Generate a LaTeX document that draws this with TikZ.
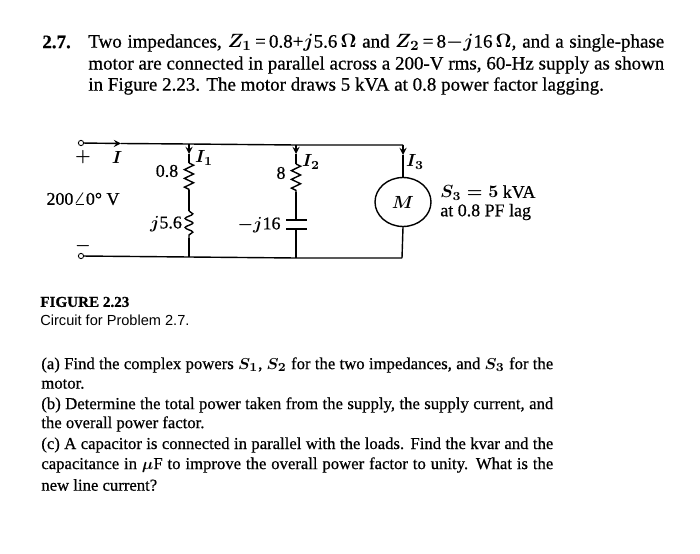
\documentclass[tikz,border=0pt]{standalone}
\usepackage{fontspec}
\setmainfont[FakeBold=0.6]{Liberation Serif}
\newfontfamily\capfont{Liberation Sans}
\usetikzlibrary{decorations.pathmorphing, shapes.geometric}

\newcommand{\fullline}[2]{\makebox[#1][s]{#2}}

\tikzset{
    txt/.style={anchor=west, inner sep=0pt, font=\boldmath\fontsize{10.8}{12}\selectfont},
    lowtxt/.style={txt, font=\boldmath\fontsize{9.5}{11}\selectfont},
    lab/.style={inner sep=0pt, font=\boldmath\fontsize{10.2}{11}\selectfont},
    wire/.style={line width=0.8pt},
    resist/.style={wire, decorate, decoration={zigzag, amplitude=2.6pt, segment length=5pt}},
    induct/.style={wire, decorate, decoration={snake, amplitude=2.2pt, segment length=5.2pt}},
    term/.style={circle, draw, line width=0.5pt, inner sep=0pt, minimum size=3pt}
}

\begin{document}
\begin{tikzpicture}[x=0.02cm, y=-0.02cm, >=stealth]

    % 1. Fix the page
    \useasboundingbox (0,0) rectangle (700,554);

    % 2. Problem statement
    \node[txt] (num) at (42,42) {\textbf{2.7.}};
    \node[txt] (st1) at (88,43) {\fullline{11.52cm}{Two impedances, $Z_1$\,=\,0.8+$j$5.6\,$\Omega$ and $Z_2$\,=\,8$-j$16\,$\Omega$, and a single-phase}};
    \node[txt] (st2) at (88,65) {\fullline{11.52cm}{motor are connected in parallel across a 200-V rms, 60-Hz supply as shown}};
    \node[txt] (st3) at (88,86) {in Figure 2.23. The motor draws 5 kVA at 0.8 power factor lagging.};

    % 3. Rails and branch points
    \node[term] (tt) at (81,143) {};
    \node[term] (tb) at (81,256) {};
    \coordinate (ia) at (121,143.5);
    \coordinate (t1) at (189,144);
    \coordinate (t2) at (296,145);
    \coordinate (t3) at (403,145);
    \coordinate (b1) at (189,257);
    \coordinate (b2) at (296,258);
    \coordinate (b3) at (402,258);
    \draw[wire, ->] (tt) -- (ia);
    \draw[wire] (ia) -- (t1) -- (t2) -- (t3);
    \draw[wire] (tb) -- (b1) -- (b2) -- (b3);

    % 4. First branch
    \coordinate (a1) at (189,154);
    \coordinate (r1a) at (189,163);
    \coordinate (r1b) at (189,190);
    \coordinate (l1a) at (189,211);
    \coordinate (l1b) at (189,238);
    \draw[wire, ->] (t1) -- (a1);
    \draw[wire] (a1) -- (r1a);
    \draw[resist] (r1a) -- (r1b);
    \draw[wire] (r1b) -- (l1a);
    \draw[induct] (l1a) -- (l1b);
    \draw[wire] (l1b) -- (b1);

    % 5. Second branch
    \coordinate (a2) at (296,154);
    \coordinate (r2a) at (296,164);
    \coordinate (r2b) at (296,192);
    \coordinate (c2a) at (296,220);
    \coordinate (c2b) at (296,229);
    \draw[wire, ->] (t2) -- (a2);
    \draw[wire] (a2) -- (r2a);
    \draw[resist] (r2a) -- (r2b);
    \draw[wire] (r2b) -- (c2a);
    \draw[wire] (c2b) -- (b2);
    \draw[wire] (286,220) -- (307,220);
    \draw[wire] (286,229) -- (307,229);

    % 6. Motor
    \node[ellipse, draw, line width=0.8pt, inner sep=0pt, minimum width=1.12cm, minimum height=0.98cm,
          font=\boldmath\fontsize{10.2}{11}\selectfont] (M) at (403,202) {$M$};
    \coordinate (a3) at (403,155);
    \draw[wire, ->] (t3) -- (a3);
    \draw[wire] (a3) -- (M.north);
    \draw[wire] (M.south) -- (b3);

    % 7. Circuit labels
    \node[lab] (plus) at (83,157) {$+$};
    \node[lab] (cur) at (117,157) {$I$};
    \node[lab] (vs) at (83,199) {200$\angle$0° V};
    \node[lab] (minus) at (83,246) {$-$};
    \node[lab] (v08) at (167,171) {0.8};
    \node[lab] (i1) at (204,158) {$I_1$};
    \node[lab] (v56) at (166,224) {$j$5.6};
    \node[lab] (v8) at (281,173) {8};
    \node[lab] (i2) at (311,162) {$I_2$};
    \node[lab] (v16) at (259,225) {$-j$16};
    \node[lab] (i3) at (415,162) {$I_3$};
    \node[lab, anchor=west] (s3) at (440,193) {$S_3=5$ kVA};
    \node[lab, anchor=west] (pf) at (440,212) {at 0.8 PF lag};

    % 8. Caption
    \node[lowtxt, font=\bfseries\fontsize{8.6}{10}\selectfont] (fig) at (40,302) {FIGURE 2.23};
    \node[lowtxt, font=\capfont\fontsize{8.3}{10}\selectfont] (cap) at (40,320) {Circuit for Problem 2.7.};

    % 9. Questions
    \node[lowtxt] (qa1) at (41,365) {\fullline{10.24cm}{(a) Find the complex powers $S_1$, $S_2$ for the two impedances, and $S_3$ for the}};
    \node[lowtxt] (qa2) at (41,384) {motor.};
    \node[lowtxt] (qb1) at (41,405) {\fullline{10.24cm}{(b) Determine the total power taken from the supply, the supply current, and}};
    \node[lowtxt] (qb2) at (41,424) {the overall power factor.};
    \node[lowtxt] (qc1) at (41,445) {\fullline{10.24cm}{(c) A capacitor is connected in parallel with the loads. Find the kvar and the}};
    \node[lowtxt] (qc2) at (41,465) {\fullline{10.24cm}{capacitance in $\mu$F to improve the overall power factor to unity. What is the}};
    \node[lowtxt] (qc3) at (41,485) {new line current?};

\end{tikzpicture}
\end{document}
